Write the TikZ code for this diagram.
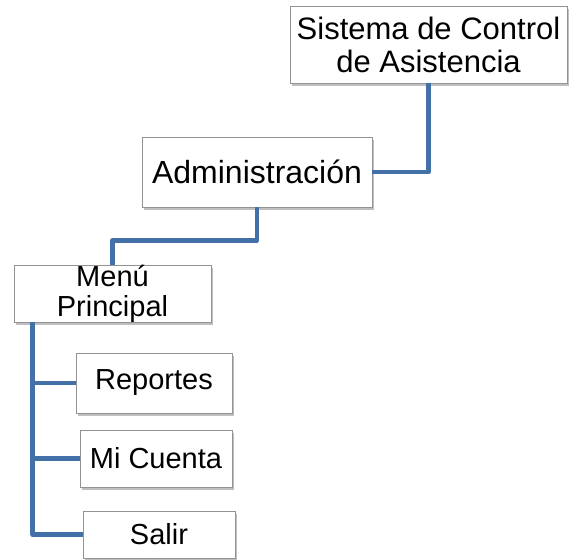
\documentclass[tikz,border=0pt]{standalone}
\usepackage{fontspec}
\setmainfont{Liberation Sans}
\usetikzlibrary{shadows}
\definecolor{linkblue}{HTML}{4470A8}
\begin{document}
\begin{tikzpicture}[x=1pt,y=-1pt,
  menubox/.style={draw=gray!85,fill=white,line width=0.6pt,inner sep=0pt,align=center,
    drop shadow={shadow xshift=2pt,shadow yshift=-3pt,opacity=0.5,fill=gray}},
  link/.style={draw=linkblue,line width=4.5pt,line join=round}]
\useasboundingbox (0,0) rectangle (571,560);

\node[menubox,minimum width=277pt,minimum height=77pt,font=\fontsize{31}{33}\selectfont]
  (sistema) at (428.5,44.5) {Sistema de Control\\de Asistencia};
\node[menubox,minimum width=230pt,minimum height=70pt,font=\fontsize{32}{34}\selectfont]
  (admin) at (257,172) {Administración};
\node[menubox,minimum width=197pt,minimum height=55pt,font=\fontsize{29}{30}\selectfont]
  (menu) at (112.5,293.5) {Menú\\Principal};

\node[menubox,minimum width=156pt,minimum height=60pt,font=\fontsize{29}{31}\selectfont]
  (reportes) at (154,383) {Reportes};
\node[menubox,minimum width=152pt,minimum height=57pt,font=\fontsize{29}{31}\selectfont]
  (cuenta) at (156,458.5) {Mi Cuenta};
\node[menubox,minimum width=152pt,minimum height=47pt,font=\fontsize{29}{31}\selectfont]
  (salir) at (159,534.5) {Salir};

\coordinate (trunk) at ([xshift=19pt]menu.south west);
\draw[link] (sistema.south) |- (admin.east);
\draw[link] (admin.south) -- ++(0,33) -| (menu.north);
\draw[link] (trunk) |- (reportes.west);
\draw[link] (trunk) |- (cuenta.west);
\draw[link] (trunk) |- (salir.west);
\end{tikzpicture}
\end{document}
